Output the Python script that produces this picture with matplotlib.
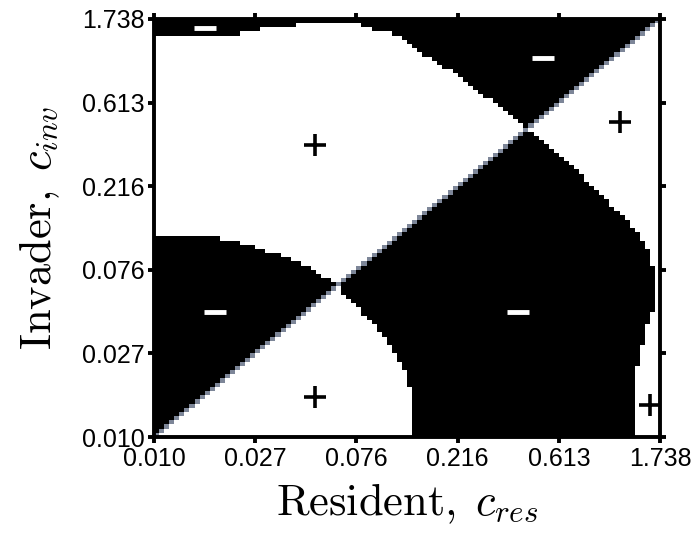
import numpy as np
import matplotlib
matplotlib.use("Agg")
import matplotlib.pyplot as plt
from matplotlib.colors import ListedColormap
from matplotlib.path import Path

plt.rcParams["mathtext.fontset"] = "cm"

# Trait range (log10 of c) and the grid resolution of the invasion map
c_min, c_max = 0.010, 1.738
n_cells = 100

tick_labels = ["0.010", "0.027", "0.076", "0.216", "0.613", "1.738"]

# Boundary curves of zero invasion fitness (log10 c_res, log10 c_inv)
# Upper curve: left edge -> over the top -> through the upper singular point -> down the right side
top_right_res = [-2.00, -1.69, -1.60, -1.50, -1.40, -1.30, -1.18, -1.10, -1.04, -0.96,
                 -0.91, -0.82, -0.73, -0.645, -0.557, -0.468, -0.393, -0.347,
                 -0.234, -0.145, -0.057, 0.050, 0.138, 0.200, 0.212, 0.215, 0.212,
                 0.196, 0.174, 0.152, 0.129, 0.129]
top_right_inv = [0.14, 0.14, 0.165, 0.19, 0.20, 0.22, 0.225, 0.21, 0.185, 0.165,
                 0.14, 0.063, -0.006, -0.076, -0.151, -0.237, -0.312, -0.347,
                 -0.462, -0.553, -0.660, -0.784, -0.907, -1.035, -1.105, -1.212, -1.319,
                 -1.357, -1.443, -1.550, -1.678, -2.00]

# Lower curve: left edge -> lower singular point -> down to the bottom edge
lower_res = [-2.00, -1.75, -1.62, -1.53, -1.46, -1.40, -1.32, -1.28, -1.23, -1.19,
             -1.132, -1.075, -1.030, -0.969, -0.924, -0.889, -0.858, -0.858]
lower_inv = [-0.92, -0.93, -0.955, -0.99, -1.02, -1.05, -1.08, -1.12, -1.15, -1.19,
             -1.266, -1.335, -1.389, -1.480, -1.571, -1.657, -1.786, -2.00]

# Sign labels placed in the regions (c_res, c_inv in log10)
plus_res = [-1.287, 0.063, -1.287, 0.196]
plus_inv = [-0.435, -0.312, -1.786, -1.829]
minus_res = [-1.774, -0.278, -1.730, -0.389]
minus_inv = [0.192, 0.031, -1.330, -1.330]


def region(res, inv):
    # close a boundary curve with the lower-left corner to get a polygon
    pts = [(-2.2, -2.2)] + list(zip(res, inv)) + [(res[-1], -2.2)]
    return Path(pts)


lo, hi = np.log10(c_min), np.log10(c_max)
edges = np.linspace(lo, hi, n_cells + 1)
centers = 0.5 * (edges[:-1] + edges[1:])
U, V = np.meshgrid(centers, centers)
pts = np.column_stack([U.ravel(), V.ravel()])

in_lower = region(lower_res, lower_inv).contains_points(pts).reshape(U.shape)
in_top = region(top_right_res, top_right_inv).contains_points(pts).reshape(U.shape)

fitness_sign = -np.sign(V - U) * np.where(in_lower, -1, 1) * np.where(in_top, -1, 1)

fig = plt.figure(figsize=(6.96, 5.36), dpi=100)
ax = fig.add_axes([0.2213, 0.1847, 0.727, 0.78])

cmap = ListedColormap(["black", "#7d8698", "white"])
ax.pcolormesh(10 ** edges, 10 ** edges, fitness_sign, cmap=cmap, vmin=-1.5, vmax=1.5,
              shading="flat", antialiased=False, edgecolors="none")

ax.plot(10 ** np.array(plus_res), 10 ** np.array(plus_inv), ls="none", marker="+",
        ms=16, mew=2.6, color="black")
ax.plot(10 ** np.array(minus_res), 10 ** np.array(minus_inv), ls="none", marker="_",
        ms=16, mew=3.5, color="white")

ax.set_xscale("log")
ax.set_yscale("log")
ax.set_xlim(c_min, c_max)
ax.set_ylim(c_min, c_max)

tick_pos = np.logspace(lo, hi, len(tick_labels))
ax.set_xticks(tick_pos)
ax.set_xticklabels(tick_labels)
ax.set_yticks(tick_pos)
ax.set_yticklabels(tick_labels)
ax.minorticks_off()

for s in ax.spines.values():
    s.set_linewidth(2.8)
ax.tick_params(direction="out", length=4, width=2.8, top=True, right=True,
               labelsize=18, pad=3)
for lab in ax.get_xticklabels() + ax.get_yticklabels():
    lab.set_family("Liberation Sans")

ax.set_xlabel(r"$\mathrm{Resident},\;c_{res}$", fontsize=32, labelpad=8)
ax.set_ylabel(r"$\mathrm{Invader},\;c_{inv}$", fontsize=32, labelpad=14)

fig.savefig("out.png", dpi=100)
